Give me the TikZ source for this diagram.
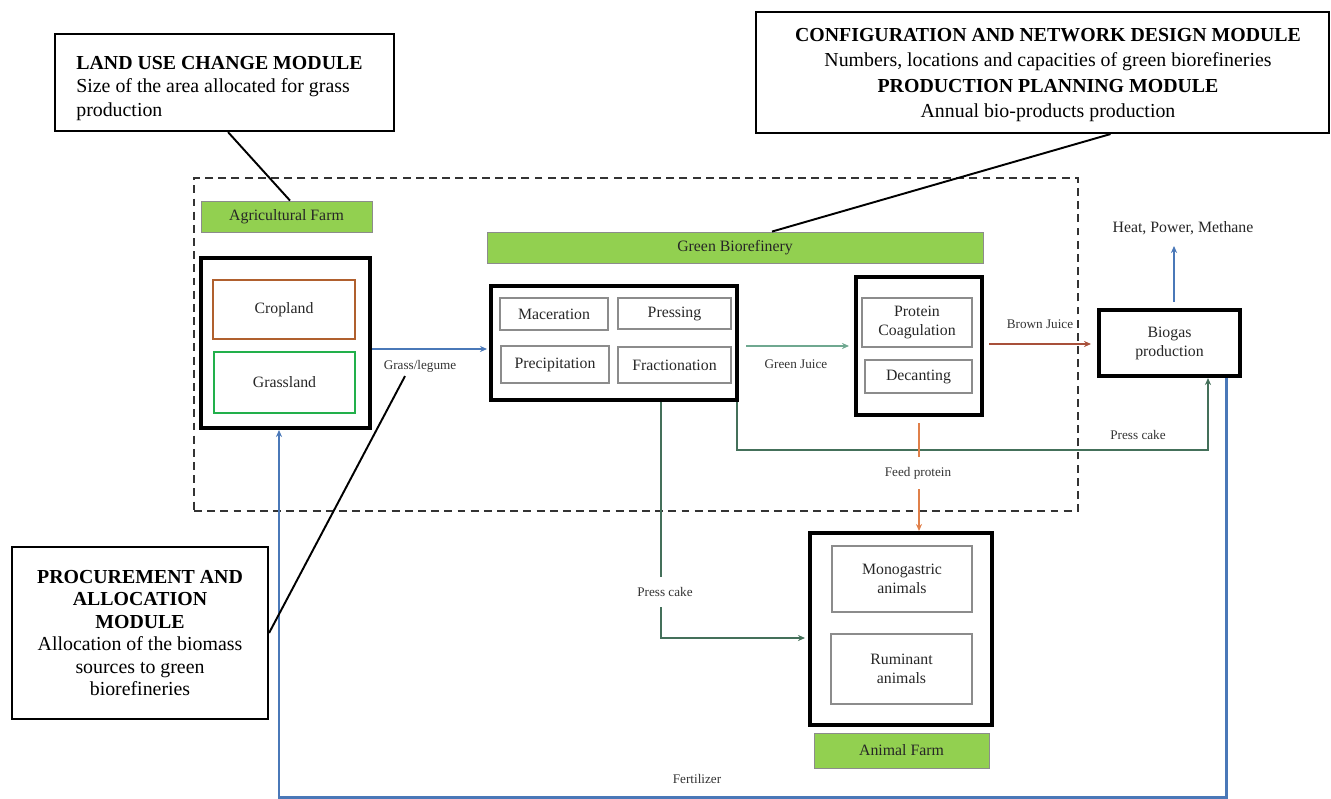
\documentclass[tikz,border=0pt]{standalone}
\usepackage{fontspec}
\setmainfont{Liberation Serif}
\usetikzlibrary{arrows.meta,calc}
\definecolor{barGreen}{HTML}{92D050}
\definecolor{cropBrown}{HTML}{B0602E}
\definecolor{grassGreen}{HTML}{22B04B}
\definecolor{blueC}{HTML}{4A78B8}
\definecolor{pcC}{HTML}{44705A}
\definecolor{gjC}{HTML}{6FA890}
\definecolor{bjC}{HTML}{A8503A}
\definecolor{fpC}{HTML}{E0804A}
\begin{document}
\begin{tikzpicture}[x=0.02cm,y=-0.02cm,
  every node/.style={font=\fontsize{9}{10.8}\selectfont, text=black!85},
  rect/.style n args={4}{at={({(#1+#3)/2},{(#2+#4)/2})},
    minimum width={(#3-#1)*0.02cm}, minimum height={(#4-#2)*0.02cm}},
  thickbox/.style={draw=black, line width=2.3pt, inner sep=0pt},
  subbox/.style={draw=black!45, line width=0.6pt, inner sep=0pt, align=center},
  landbox/.style={line width=1.3pt, inner sep=0pt},
  greenbar/.style={draw=black!45, line width=0.5pt, fill=barGreen, inner sep=0pt},
  modbox/.style={draw=black, line width=1.2pt, inner sep=0pt, fill=white, text=black,
    font=\fontsize{11.3}{12.8}\selectfont},
  modtext/.style={inner sep=0pt, text=black},
  lbl/.style={font=\fontsize{7.5}{9}\selectfont, text=black!80, inner sep=1pt},
  tip/.style={-{Stealth[length=4pt,width=3.5pt]}},
  flow/.style={line width=1.4pt, tip},
  pointer/.style={draw=black, line width=1.1pt},
  cluster/.style={draw=black!80, line width=1.1pt, dash pattern=on 4.5pt off 3pt, inner sep=0pt}
]
\useasboundingbox (0,0) rectangle (1331,798);

% dashed boundary
\node[cluster, rect={194}{178}{1078}{511}] (clus) {};

% modules
\node[modbox, rect={55}{34}{394}{131}] (land) {};
\node[modtext, anchor=west, align=left, font=\fontsize{11.3}{13.3}\selectfont] (landtxt) at (76,88.5)
  {\textbf{LAND USE CHANGE MODULE}\\Size of the area allocated for grass\\production};
\node[modbox, rect={756}{12}{1329}{133}] (config) {};
\node[modtext, align=center, font=\fontsize{11.3}{14.3}\selectfont] (configtxt) at (1048,75)
  {\textbf{CONFIGURATION AND NETWORK DESIGN MODULE}\\
   Numbers, locations and capacities of green biorefineries\\
   \textbf{PRODUCTION PLANNING MODULE}\\
   Annual bio-products production};
\node[modbox, rect={12}{547}{268}{719}, align=center] (procm)
  {\textbf{PROCUREMENT AND}\\\textbf{ALLOCATION}\\\textbf{MODULE}\\
   Allocation of the biomass\\sources to green\\biorefineries};

% agricultural farm
\node[greenbar, rect={201}{201}{372}{232}] (agfarm) {Agricultural Farm};
\node[thickbox, rect={201}{258}{370}{428}] (farm) {};
\node[landbox, draw=cropBrown, rect={213}{280}{355}{339}] (crop) {Cropland};
\node[landbox, draw=grassGreen, rect={214}{352}{355}{413}] (grass) {Grassland};

% green biorefinery
\node[greenbar, rect={487}{232}{983}{263}] (gbar) {Green Biorefinery};
\node[thickbox, rect={491}{286}{737}{400}] (proc) {};
\node[subbox, rect={500}{298}{608}{330}] (mac) {Maceration};
\node[subbox, rect={618}{298}{731}{329}] (press) {Pressing};
\node[subbox, rect={501}{346}{609}{383}] (precip) {Precipitation};
\node[subbox, rect={618}{347}{731}{383}] (fract) {Fractionation};

\node[thickbox, rect={856}{277}{982}{415}] (prot) {};
\node[subbox, rect={862}{298}{972}{347}] (coag) {Protein\\Coagulation};
\node[subbox, rect={865}{360}{972}{393}] (dec) {Decanting};

% biogas
\node[thickbox, rect={1099}{310}{1240}{376}, align=center] (biogas) {Biogas\\production};
\node (heat) at (1183,228) {Heat, Power, Methane};

% animal farm
\node[thickbox, rect={810}{533}{992}{725}] (animal) {};
\node[subbox, rect={832}{546}{972}{612}] (mono) {Monogastric\\animals};
\node[subbox, rect={831}{634}{972}{704}] (rum) {Ruminant\\animals};
\node[greenbar, rect={814}{733}{989}{768}] (afarm) {Animal Farm};

% labels
\node[lbl] (glabel) at (420,366) {Grass/legume};
\node[lbl] (gjlabel) at (796,364) {Green Juice};
\node[lbl] (bjlabel) at (1040,324) {Brown Juice};
\node[lbl] (pc2) at (1138,435) {Press cake};
\node[lbl] (fert) at (697,779) {Fertilizer};

% flows
\draw[flow, blueC] ($(farm.east)+(0,6)$) -- ($(farm.east -| proc.west)+(-2,6)$);
\draw[flow, gjC, line width=1.2pt] ($(proc.east |- prot.west)+(7,0)$) -- ($(prot.west)+(-5,0)$);
\draw[flow, bjC] ($(prot.east)+(5,-2)$) -- ($(biogas.west |- prot.east)+(-6,-2)$);
\draw[flow, blueC] ($(biogas.north)+(4.5,-6)$) -- ($(biogas.north)+(4.5,-62)$);

\draw[flow, pcC] ($(proc.south west)!0.688!(proc.south east)$) |- ($(animal.west)+(-3,9)$);
\draw[flow, pcC] ($(proc.south east)+(-2,0)$) -- ++(0,48) -| ($(biogas.south)+(38.5,0)$);
\draw[flow, fpC] ($(prot.south)+(0,6)$) -- (prot.south |- animal.north);
\draw[flow, blueC, line width=1.7pt] ($(biogas.south)+(56.5,0)$) |- ($(farm.south)+(-6.5,367)$)
  -- ($(farm.south)+(-6.5,0)$);

% labels over lines (gaps)
\node[lbl, fill=white, inner ysep=0.2cm] (pc1) at (665,592) {Press cake};
\node[lbl, fill=white, inner ysep=0.2cm] (fp) at (918,473) {Feed protein};

% pointers
\draw[pointer] ($(land.south)+(3.5,0)$) -- ($(agfarm.north)+(3.5,0)$);
\draw[pointer] ($(config.south)+(68,0)$) -- ($(gbar.north)+(37,0)$);
\draw[pointer] (procm.east) -- ($(glabel.south)+(-15,2)$);
\end{tikzpicture}
\end{document}
